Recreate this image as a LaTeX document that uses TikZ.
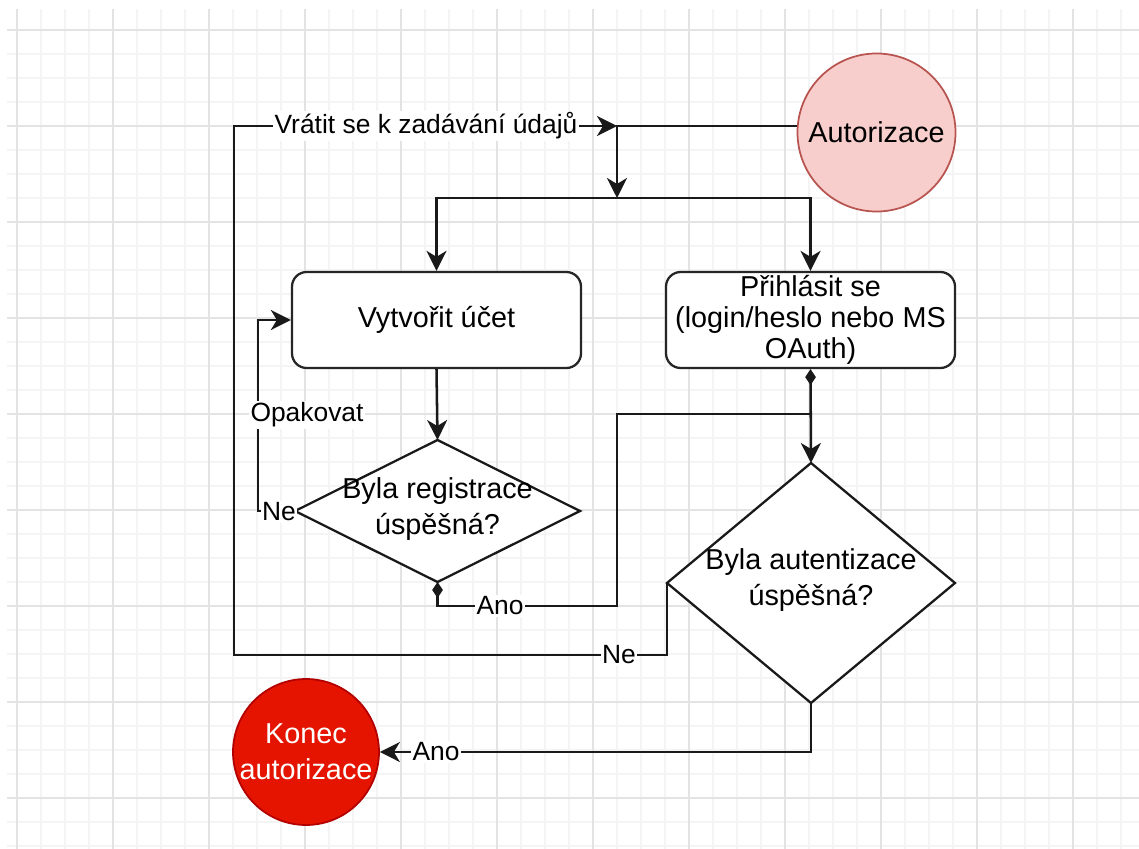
\documentclass[tikz,border=0pt]{standalone}
\usepackage{fontspec}
\setmainfont{Liberation Sans}
\usetikzlibrary{arrows.meta,shapes.geometric}
\definecolor{autfill}{HTML}{F8CECC}
\definecolor{autdraw}{HTML}{B85450}
\definecolor{endfill}{HTML}{E51400}
\definecolor{enddraw}{HTML}{B20000}
\definecolor{gridmajor}{HTML}{E3E3E3}
\definecolor{gridminor}{HTML}{F4F4F4}
\newcommand\pxu{0.75pt}
\newcommand\myBoxFont{\fontsize{21.6pt}{23.3pt}\selectfont}
\newcommand\myDiaFont{\fontsize{21.6pt}{27pt}\selectfont}
\newcommand\myLblFont{\fontsize{19.8pt}{22pt}\selectfont}
\tikzset{
  conn/.style={line width=1.9pt, draw=black!90},
  arr/.style={conn, -{Stealth[length=15pt,width=15pt,inset=4.5pt]}},
  darr/.style={conn, {Diamond[length=12pt,width=8pt]}-{Stealth[length=15pt,width=15pt,inset=4.5pt]}},
  dline/.style={conn, {Diamond[length=12pt,width=8pt]}-},
  box/.style={draw=black!85, line width=1.7pt, rounded corners=11pt, fill=white,
    minimum width=289*\pxu, minimum height=96*\pxu, inner sep=0pt, align=center, font=\myBoxFont},
  dia/.style={diamond, draw=black!90, line width=1.7pt, fill=white, inner sep=0pt, outer sep=0pt},
  diatext/.style={align=center, font=\myDiaFont, inner sep=0pt},
  lbl/.style={fill=white, inner sep=1pt, font=\myLblFont},
  gminor/.style={draw=gridminor, line width=1.1pt},
  gmajor/.style={draw=gridmajor, line width=1.1pt},
}
\begin{document}
\begin{tikzpicture}[x=0.75pt,y=-0.75pt]
\useasboundingbox (0,0) rectangle (1139,849);
\fill[white] (0,0) rectangle (1139,849);
% grid
\foreach \i in {0,...,46} \draw[gminor] ({17+24*\i},9) -- ({17+24*\i},849);
\foreach \j in {0,...,34} \draw[gminor] (7,{30+24*\j}) -- (1139,{30+24*\j});
\foreach \i in {0,...,11} \draw[gmajor] ({17+96*\i},9) -- ({17+96*\i},849);
\foreach \j in {0,...,8} \draw[gmajor] (7,{30+96*\j}) -- (1139,{30+96*\j});

% nodes
\node[circle, draw=autdraw, line width=1.3pt, fill=autfill, minimum size=158*\pxu, inner sep=0pt, font=\myBoxFont] (aut) at (876.5,132.5) {Autorizace};
\node[box] (reg) at (436.5,320) {Vytvořit účet};
\node[box] (login) at (810.5,320) {Přihlásit se\\(login/heslo nebo MS\\OAuth)};
\node[dia, minimum width=285*\pxu, minimum height=142*\pxu] (d1) at (437.5,511) {};
\node[diatext] (d1t) at (437.5,509) {Byla registrace\\úspěšná?};
\node[dia, minimum width=288*\pxu, minimum height=240*\pxu] (d2) at (811,583) {};
\node[diatext] (d2t) at (811,580) {Byla autentizace\\úspěšná?};
\node[circle, draw=enddraw, line width=1.3pt, fill=endfill, text=white, minimum size=146*\pxu, inner sep=0pt, align=center, font=\myDiaFont] (end) at (306,752) {Konec\\autorizace};

% junction coordinates
\coordinate (j1) at (617,126);
\coordinate (j2) at (617,198);
\coordinate (m1) at (810.5,414);

% start
\draw[arr] (aut.west |- j1) -- (j1) -- (j2);
\draw[arr] (j2) -| (reg.north);
\draw[arr] (j2) -| (login.north);

% registration
\draw[arr] (reg.south) -- (d1.north);
\draw[arr] (d1.west) -- (258,511) |- (reg.west);
\node[lbl] (lne1) at (279,512) {Ne};
\node[lbl] (lopak) at (307,415) {Opakovat};
\draw[dline] (d1.south) -- (437.5,606) -- (617,606) -- (617,414) -- (m1);
\node[lbl] (lano1) at (500,606) {Ano};

% login
\draw[darr] (login.south) -- (d2.north);

% authentication failed
\draw[arr] (d2.west) -- (667,655) -- (234,655) -- (234,126) -- (j1);
\node[lbl] (lne2) at (619,655) {Ne};
\node[lbl] (lvrat) at (426,126) {Vrátit se k zadávání údajů};

% authentication ok
\draw[arr] (d2.south) |- (end.east);
\node[lbl] (lano2) at (436,752) {Ano};
\end{tikzpicture}
\end{document}
